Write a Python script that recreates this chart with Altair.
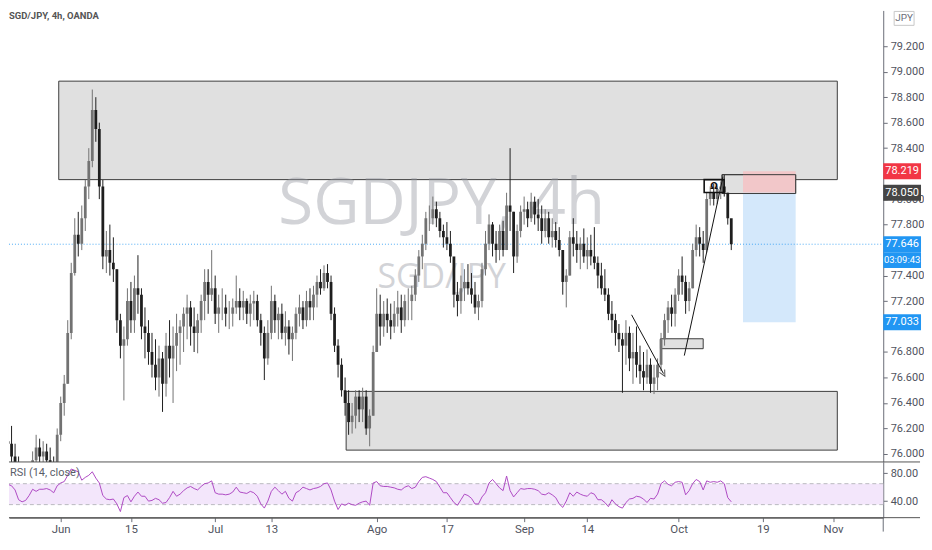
import altair as alt
import pandas as pd

# ---------------- values ----------------
# half-day candles (3 x 4h bars each); x = trading days counted from 1 Jun
start_day = -8.5
day_step = 0.5
first_open = 76.10

highs = [
    76.22, 76.20, 76.25, 76.22, 76.08, 75.98, 75.92, 75.90, 75.93, 76.02,
    76.15, 76.12, 76.10, 76.08, 76.05, 75.98, 76.20, 76.45, 76.62, 77.05,
    77.50, 77.85, 77.90, 77.95, 78.15, 78.40, 78.86, 78.80, 78.60, 78.15,
    77.75, 77.80, 77.70, 77.45, 77.10, 77.00, 77.30, 77.35, 77.40, 77.56,
    77.30, 77.15, 77.05, 76.95, 76.90, 76.85, 76.80, 76.95, 77.05, 77.00,
    77.10, 77.05, 77.15, 77.25, 77.20, 77.15, 77.10, 77.25, 77.45, 77.45,
    77.60, 77.40, 77.25, 77.30, 77.25, 77.20, 77.22, 77.40, 77.30, 77.28,
    77.22, 77.25, 77.28, 77.25, 77.10, 77.00, 77.05, 77.32, 77.25, 77.15,
    77.18, 77.12, 77.05, 77.00, 77.15, 77.25, 77.20, 77.28, 77.30, 77.32,
    77.40, 77.45, 77.48, 77.49, 77.40, 77.15, 76.90, 76.75, 76.60, 76.50,
    76.40, 76.50, 76.50, 76.52, 76.50, 76.35, 76.85, 77.30, 77.25, 77.20,
    77.22, 77.18, 77.20, 77.28, 77.25, 77.25, 77.30, 77.32, 77.45, 77.60,
    77.72, 77.90, 77.95, 78.02, 77.98, 77.90, 77.80, 77.82, 77.75, 77.50,
    77.35, 77.40, 77.45, 77.49, 77.42, 77.35, 77.25, 77.50, 77.75, 77.88,
    77.82, 77.75, 77.80, 77.83, 78.05, 78.40, 77.90, 77.80, 77.95, 78.02,
    77.98, 78.05, 78.02, 78.00, 77.95, 77.92, 77.90, 77.85, 77.82, 77.78,
    77.55, 77.45, 77.75, 77.85, 77.75, 77.70, 77.77, 77.70, 77.72, 77.78,
    77.55, 77.50, 77.45, 77.30, 77.20, 77.10, 77.02, 76.95, 77.05, 77.00,
    76.95, 77.00, 76.85, 76.80, 76.82, 76.75, 76.70, 76.75, 76.95, 77.10,
    77.20, 77.25, 77.30, 77.45, 77.55, 77.40, 77.35, 77.65, 77.80, 77.78,
    77.75, 78.05, 78.10, 78.12, 78.10, 78.14, 78.19, 78.05, 77.82,
]
lows = [
    75.98, 75.95, 76.00, 75.92, 75.85, 75.78, 75.75, 75.72, 75.74, 75.82,
    75.88, 75.92, 75.90, 75.86, 75.85, 75.80, 75.88, 76.10, 76.30, 76.55,
    76.90, 77.40, 77.55, 77.60, 77.75, 78.00, 78.25, 78.45, 78.00, 77.45,
    77.42, 77.40, 77.35, 76.95, 76.75, 76.42, 76.85, 76.95, 76.95, 77.10,
    76.90, 76.75, 76.70, 76.60, 76.50, 76.45, 76.33, 76.45, 76.60, 76.40,
    76.65, 76.70, 76.80, 76.90, 76.85, 76.80, 76.79, 76.95, 77.05, 77.10,
    77.20, 77.02, 76.95, 77.05, 77.00, 76.98, 77.00, 77.10, 77.05, 77.05,
    77.02, 77.00, 77.05, 77.00, 76.85, 76.58, 76.70, 76.90, 76.95, 76.90,
    76.90, 76.85, 76.78, 76.73, 76.90, 77.00, 76.98, 77.00, 77.05, 77.05,
    77.15, 77.25, 77.28, 77.30, 77.05, 76.80, 76.60, 76.45, 76.30, 76.15,
    76.16, 76.20, 76.25, 76.25, 76.15, 76.06, 76.30, 76.80, 76.85, 76.92,
    76.95, 76.90, 76.95, 77.00, 76.95, 77.00, 77.05, 77.05, 77.20, 77.35,
    77.45, 77.60, 77.75, 77.80, 77.78, 77.70, 77.62, 77.60, 77.50, 77.15,
    77.08, 77.10, 77.20, 77.25, 77.18, 77.10, 77.05, 77.15, 77.40, 77.60,
    77.55, 77.50, 77.52, 77.55, 77.60, 77.75, 77.42, 77.50, 77.70, 77.80,
    77.78, 77.82, 77.80, 77.75, 77.65, 77.70, 77.65, 77.62, 77.62, 77.55,
    77.25, 77.15, 77.40, 77.55, 77.50, 77.45, 77.50, 77.45, 77.48, 77.45,
    77.30, 77.25, 77.20, 77.05, 76.95, 76.85, 76.80, 76.48, 76.70, 76.65,
    76.55, 76.60, 76.55, 76.50, 76.55, 76.48, 76.47, 76.50, 76.65, 76.85,
    76.95, 77.00, 77.00, 77.20, 77.25, 77.10, 77.12, 77.30, 77.55, 77.55,
    77.50, 77.58, 77.95, 77.95, 77.96, 78.00, 78.02, 77.80, 77.60,
]
closes = [
    76.05, 76.10, 76.08, 75.98, 75.90, 75.85, 75.80, 75.78, 75.88, 75.95,
    76.05, 75.98, 76.02, 75.95, 75.92, 75.90, 76.15, 76.40, 76.55, 76.95,
    77.42, 77.72, 77.65, 77.85, 78.10, 78.30, 78.70, 78.55, 78.10, 77.55,
    77.60, 77.50, 77.45, 77.05, 76.85, 76.90, 77.20, 77.05, 77.30, 77.25,
    77.00, 76.95, 76.80, 76.70, 76.60, 76.75, 76.55, 76.85, 76.75, 76.85,
    76.95, 77.00, 77.10, 77.15, 77.00, 76.95, 77.05, 77.20, 77.35, 77.25,
    77.30, 77.10, 77.15, 77.15, 77.10, 77.10, 77.15, 77.20, 77.15, 77.20,
    77.10, 77.18, 77.20, 77.05, 76.95, 76.75, 76.95, 77.20, 77.05, 77.10,
    76.95, 77.00, 76.90, 76.95, 77.10, 77.15, 77.05, 77.20, 77.15, 77.25,
    77.35, 77.30, 77.42, 77.35, 77.10, 76.85, 76.70, 76.50, 76.40, 76.25,
    76.30, 76.45, 76.35, 76.45, 76.20, 76.30, 76.80, 77.10, 77.00, 77.10,
    77.05, 77.00, 77.10, 77.15, 77.05, 77.20, 77.20, 77.25, 77.40, 77.55,
    77.65, 77.85, 77.85, 77.92, 77.85, 77.75, 77.70, 77.65, 77.55, 77.25,
    77.20, 77.30, 77.35, 77.30, 77.25, 77.15, 77.20, 77.45, 77.65, 77.80,
    77.65, 77.60, 77.75, 77.60, 77.95, 77.90, 77.55, 77.75, 77.90, 77.92,
    77.85, 77.98, 77.88, 77.85, 77.75, 77.85, 77.70, 77.75, 77.68, 77.60,
    77.35, 77.40, 77.70, 77.65, 77.60, 77.65, 77.55, 77.60, 77.55, 77.50,
    77.40, 77.30, 77.25, 77.10, 77.05, 76.95, 76.90, 76.85, 76.95, 76.75,
    76.80, 76.70, 76.65, 76.60, 76.70, 76.55, 76.60, 76.70, 76.90, 77.05,
    77.15, 77.10, 77.25, 77.40, 77.35, 77.20, 77.30, 77.60, 77.70, 77.65,
    77.60, 78.00, 78.05, 78.00, 78.08, 78.10, 78.05, 77.85, 77.646,
]
rsi_values = [
    69, 63, 64, 62, 56, 42, 39, 41, 48, 57,
    54, 57, 57, 58, 56, 52, 62, 66, 68, 77,
    86, 84, 82, 70, 74, 77, 82, 73, 66, 48,
    43, 42, 43, 36, 25, 45, 48, 39, 47, 53,
    47, 47, 40, 41, 44, 42, 37, 38, 45, 54,
    47, 50, 55, 59, 61, 58, 56, 61, 65, 66,
    69, 52, 50, 50, 49, 50, 53, 60, 53, 52,
    51, 54, 52, 47, 36, 30, 40, 54, 60, 55,
    50, 54, 44, 40, 52, 55, 60, 58, 56, 58,
    59, 61, 65, 66, 56, 40, 28, 36, 34, 37,
    35, 34, 37, 39, 40, 34, 66, 68, 62, 61,
    61, 60, 59, 57, 56, 60, 62, 58, 60, 68,
    74, 75, 73, 71, 68, 60, 52, 52, 45, 38,
    34, 42, 50, 48, 44, 36, 36, 46, 52, 66,
    71, 65, 59, 55, 76, 55, 46, 52, 58, 57,
    58, 58, 57, 55, 50, 49, 52, 49, 45, 36,
    31, 40, 52, 47, 53, 50, 48, 47, 52, 50,
    42, 42, 38, 32, 42, 36, 32, 30, 38, 43,
    44, 47, 46, 43, 38, 44, 43, 50, 65, 69,
    64, 62, 67, 68, 67, 49, 55, 65, 71, 68,
    56, 69, 67, 68, 67, 69, 65, 45, 39,
]

last_price = 77.646
countdown = "03:09:43"

# axis labels that are not hidden behind a price badge
price_ticks = [76.0, 76.2, 76.4, 76.6, 76.8, 77.2, 77.4,
               77.8, 78.0, 78.4, 78.6, 78.8, 79.0, 79.2]
rsi_ticks = [40, 80]
rsi_band_low = 35
rsi_band_high = 65

tick_days = [0, 10, 22, 30, 45, 55, 66, 75, 88, 100, 110]
tick_labels = ["Jun", "15", "Jul", "13", "Ago", "17", "Sep", "14", "Oct", "19", "Nov"]

# drawn zones (supply/demand boxes etc.)
zone_x1 = [-0.28, 40.65, 85.41, 94.19]
zone_x2 = [110.6, 110.6, 91.5, 104.67]
zone_top = [78.926, 76.491, 76.904, 78.192]
zone_bottom = [78.153, 76.030, 76.826, 78.044]

# short position tool: stop (red) and target (blue)
pos_x1 = [97.17, 97.17]
pos_x2 = [104.67, 104.67]
pos_top = [78.219, 78.050]
pos_bottom = [78.050, 77.033]
pos_colors = ["#f2c7c9", "#d4e8fb"]

flag_x1 = [91.64]
flag_x2 = [94.47]
flag_top = [78.153]
flag_bottom = [78.052]

trend_x1 = [81.3, 88.81]
trend_y1 = [77.092, 76.772]
trend_x2 = [85.84, 94.33]
trend_y2 = [76.631, 78.177]

badge_prices = [78.219, 78.050, 77.646, 77.033]
badge_colors = ["#f23645", "#454545", "#2196f3", "#2196f3"]

# ---------------- tables ----------------
n = len(closes)
days = [start_day + day_step * i for i in range(n)]
opens = [first_open] + closes[:-1]
candles = pd.DataFrame({"day": days, "open": opens, "high": highs, "low": lows,
                        "close": closes, "rsi": rsi_values})
zones = pd.DataFrame({"x1": zone_x1, "x2": zone_x2, "top": zone_top, "bottom": zone_bottom})
pos = pd.DataFrame({"x1": pos_x1, "x2": pos_x2, "top": pos_top, "bottom": pos_bottom, "c": pos_colors})
flag_outline = zones.iloc[[3]]
flag = pd.DataFrame({"x1": flag_x1, "x2": flag_x2, "top": flag_top, "bottom": flag_bottom})
flag_icon = pd.DataFrame({"x": [(flag_x1[0] + flag_x2[0]) / 2], "y": [(flag_top[0] + flag_bottom[0]) / 2]})
trend = pd.DataFrame({"x1": trend_x1, "y1": trend_y1, "x2": trend_x2, "y2": trend_y2})
arrow = pd.DataFrame({"x": trend_x2[:1], "y": trend_y2[:1]})
lastdf = pd.DataFrame({"p": [last_price], "t": [countdown]})
badges = pd.DataFrame({"p": badge_prices, "c": badge_colors,
                       "t": [f"{v:.3f}" for v in badge_prices]})
band = pd.DataFrame({"lo": [rsi_band_low], "hi": [rsi_band_high]})
bandlines = pd.DataFrame({"v": [rsi_band_low, rsi_band_high]})

# ---------------- layout / style ----------------
W = 879
H_PRICE = 454
H_RSI = 56
FONT = "Liberation Sans Narrow, Roboto"
AX = "#6a6d78"
LBL = "#50535e"
UP = "#727272"
DOWN = "#1e1e1e"
RSI_C = "#ae4ac4"

xs = alt.Scale(domain=[-7.365, 117.14], nice=False, zero=False, padding=0)
ps = alt.Scale(domain=[75.937, 79.481], nice=False, zero=False, padding=0)
rs = alt.Scale(domain=[16.3, 96.1], nice=False, zero=False, padding=0)

price_axis = alt.Axis(orient="right", values=price_ticks, format=".3f", tickSize=4,
                      labelPadding=3, domainColor=AX, tickColor=AX, labelColor=LBL,
                      labelFontSize=11, labelFont=FONT, grid=False, title=None)
rsi_axis = alt.Axis(orient="right", values=rsi_ticks, format=".2f", tickSize=4,
                    labelPadding=3, domainColor=AX, tickColor=AX, labelColor=LBL,
                    labelFontSize=11, labelFont=FONT, grid=False, title=None)
label_expr = " : ".join(f"datum.value == {d} ? '{l}'" for d, l in zip(tick_days, tick_labels)) + " : ''"
x_axis = alt.Axis(values=tick_days, labelExpr=label_expr, tickSize=4, labelPadding=2,
                  domainColor="#555555", tickColor=AX, labelColor=LBL, labelFontSize=11.5,
                  labelFont=FONT, grid=False, title=None, labelOverlap=False, labelFlush=False)


def X(f):
    return alt.X(f, type="quantitative", scale=xs, axis=None)


def PY(f):
    return alt.Y(f, type="quantitative", scale=ps, axis=price_axis)


updown = alt.condition("datum.close >= datum.open", alt.value(UP), alt.value(DOWN))

zone_layer = alt.Chart(zones).mark_rect(color="#e0e0e0", stroke="#3b3b3b", strokeWidth=1, clip=True).encode(
    x=X("x1"), x2="x2", y=PY("top"), y2="bottom")
pos_layer = alt.Chart(pos).mark_rect(clip=True).encode(
    x=X("x1"), x2="x2", y=PY("top"), y2="bottom", color=alt.Color("c:N", scale=None))
flag_outline_layer = alt.Chart(flag_outline).mark_rect(fillOpacity=0, stroke="#3b3b3b", strokeWidth=1).encode(
    x=X("x1"), x2="x2", y=PY("top"), y2="bottom")

wm1 = alt.Chart(lastdf).mark_text(text="SGDJPY, 4h", font="Open Sans", fontSize=64, color="#9598a1",
                                  opacity=0.42, align="center", baseline="alphabetic").encode(
    x=alt.value(435), y=alt.value(215))
wm2 = alt.Chart(lastdf).mark_text(text="SGD/JPY", font="Open Sans", fontSize=34, color="#9598a1",
                                  opacity=0.42, align="center", baseline="alphabetic").encode(
    x=alt.value(435), y=alt.value(279))

price_line = alt.Chart(lastdf).mark_rule(color="#2196f3", strokeDash=[1, 2], strokeWidth=1, opacity=0.8).encode(
    y=PY("p"), x=alt.value(0), x2=alt.value(W))

wicks = alt.Chart(candles).mark_rule(strokeWidth=1, clip=True).encode(
    x=X("day"), y=PY("low"), y2="high", color=updown)
bodies = alt.Chart(candles).mark_bar(size=2.8, clip=True).encode(
    x=X("day"), y=PY("open"), y2="close", color=updown)

trend_layer = alt.Chart(trend).mark_rule(color="#111111", strokeWidth=1).encode(
    x=X("x1"), x2="x2", y=PY("y1"), y2="y2")
arrow_layer = alt.Chart(arrow).mark_point(shape="M-1,1L0,-1L1,1", filled=False, color="#111111",
                                          strokeWidth=1, size=36, angle=151.5).encode(
    x=X("x"), y=PY("y"))
flag_layer = alt.Chart(flag).mark_rect(fillOpacity=0, stroke="#111111", strokeWidth=1.6).encode(
    x=X("x1"), x2="x2", y=PY("top"), y2="bottom")
flag_icon_layer = alt.Chart(flag_icon).mark_text(text="Ω", font="DejaVu Sans", fontSize=9, fontWeight="bold",
                                                 color="#111111", align="center", baseline="middle").encode(
    x=X("x"), y=PY("y"))

BADGE = "M-2.375,-1H2.375V1H-2.375Z"
BX = 898
badge_bg = alt.Chart(badges).mark_point(shape=BADGE, filled=True, size=256, opacity=1).encode(
    x=alt.value(BX), y=PY("p"), color=alt.Color("c:N", scale=None))
badge_tx = alt.Chart(badges).mark_text(color="white", font=FONT, fontSize=11, align="center",
                                       baseline="middle").encode(
    x=alt.value(BX), y=PY("p"), text="t:N")
cd_bg = alt.Chart(lastdf).mark_point(shape=BADGE, filled=True, size=256, opacity=1, color="#2196f3",
                                     yOffset=16).encode(x=alt.value(BX), y=PY("p"))
cd_tx = alt.Chart(lastdf).mark_text(color="white", font=FONT, fontSize=9.5, align="center",
                                    baseline="middle", dy=16).encode(x=alt.value(BX), y=PY("p"), text="t:N")

jpy_bg = alt.Chart(lastdf).mark_point(shape="M-1.43,-1H1.43V1H-1.43Z", filled=True, size=196, fill="white",
                                      stroke="#c8c8c8", strokeWidth=1, opacity=1).encode(
    x=alt.value(900), y=alt.value(8))
jpy_tx = alt.Chart(lastdf).mark_text(text="JPY", font=FONT, fontSize=10, color="#6a6d78", align="center",
                                     baseline="middle").encode(x=alt.value(900), y=alt.value(8))

title_tx = alt.Chart(lastdf).mark_text(text="SGD/JPY, 4h, OANDA", font=FONT, fontSize=9.5, fontWeight="bold",
                                       color="#555555", align="left", baseline="middle").encode(
    x=alt.value(0), y=alt.value(6))

sep_price = alt.Chart(lastdf).mark_rule(color="#555555", strokeWidth=1).encode(
    x=alt.value(0), x2=alt.value(916), y=alt.value(H_PRICE))

price = alt.layer(
    zone_layer, pos_layer, flag_outline_layer, wm1, wm2, price_line, wicks, bodies,
    trend_layer, arrow_layer, flag_layer, flag_icon_layer, badge_bg, badge_tx, cd_bg, cd_tx,
    jpy_bg, jpy_tx, title_tx, sep_price,
).properties(width=W, height=H_PRICE)

# ---------------- RSI panel ----------------
band_layer = alt.Chart(band).mark_rect(color="#f3e6fb").encode(
    x=alt.value(0), x2=alt.value(W),
    y=alt.Y("lo:Q", scale=rs, axis=rsi_axis), y2="hi:Q")
band_rules = alt.Chart(bandlines).mark_rule(color="#b9b9c0", strokeDash=[4, 3], strokeWidth=1).encode(
    x=alt.value(0), x2=alt.value(W), y=alt.Y("v:Q", scale=rs, axis=rsi_axis))
rsi_line = alt.Chart(candles).mark_line(color=RSI_C, strokeWidth=1, clip=True).encode(
    x=alt.X("day:Q", scale=xs, axis=x_axis),
    y=alt.Y("rsi:Q", scale=rs, axis=rsi_axis))
rsi_label = alt.Chart(lastdf).mark_text(text="RSI (14, close)", font=FONT, fontSize=11, color="#5a5d68",
                                        align="left", baseline="middle").encode(
    x=alt.value(1), y=alt.value(11))
sep_rsi = alt.Chart(lastdf).mark_rule(color="#555555", strokeWidth=1).encode(
    x=alt.value(0), x2=alt.value(916), y=alt.value(H_RSI))
axis_ext = alt.Chart(lastdf).mark_rule(color=AX, strokeWidth=1).encode(
    x=alt.value(W), y=alt.value(H_RSI), y2=alt.value(H_RSI + 14))

rsi = alt.layer(band_layer, band_rules, rsi_line, rsi_label, sep_rsi, axis_ext).properties(
    width=W, height=H_RSI)

chart = alt.vconcat(price, rsi, spacing=0, bounds="flush").properties(
    padding=0, background="white"
).configure_view(stroke=None)

chart.save("out.html", embed_options={"renderer": "svg", "actions": False})
